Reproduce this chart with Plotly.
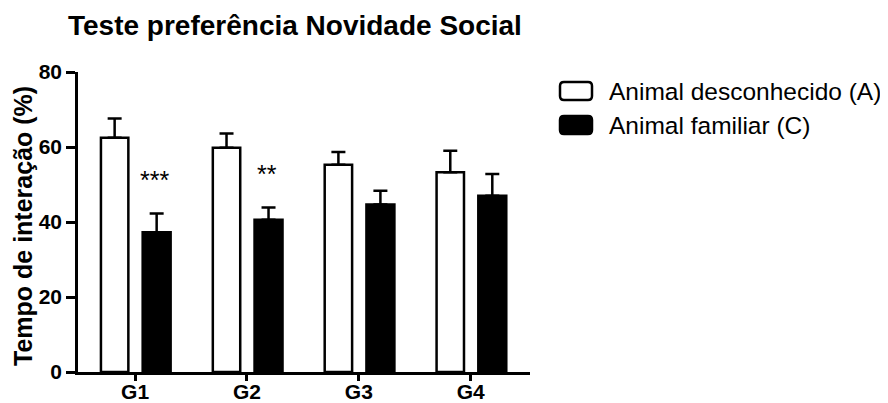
import plotly.graph_objects as go

# ---- data ----
groups = ["G1", "G2", "G3", "G4"]
series_names = ["Animal desconhecido (A)", "Animal familiar (C)"]
desconhecido = [62.5, 59.8, 55.3, 53.3]
desconhecido_sem = [5.1, 3.8, 3.4, 5.7]
familiar = [37.3, 40.6, 44.7, 47.0]
familiar_sem = [5.0, 3.3, 3.6, 5.8]
significance = ["***", "**", "", ""]
y_ticks = [0, 20, 40, 60, 80]

FONT = "Liberation Sans, Arial, sans-serif"
W, H = 888, 403
OFF = 8  # page body margin offset of the rendered figure
# plot area in screen pixels: x 78..530, y 72..372
L, R, T, B = 78 - OFF, W - (530 - OFF), 72 - OFF, H - (372 - OFF)
PW, PH = W - L - R, H - T - B

def px_x(px):
    return (px - OFF - L) / PW

def px_y(py):
    return (H - B - (py - OFF)) / PH

fig = go.Figure()
fig.add_trace(go.Bar(
    x=groups, y=desconhecido, name=series_names[0],
    offset=-0.305, width=0.245,
    marker=dict(color="white", line=dict(color="black", width=2.5)),
    error_y=dict(type="data", symmetric=False, array=desconhecido_sem,
                 arrayminus=[0] * len(groups), color="black", thickness=2.5, width=7),
    showlegend=False,
))
fig.add_trace(go.Bar(
    x=groups, y=familiar, name=series_names[1],
    offset=0.068, width=0.25,
    marker=dict(color="black", line=dict(color="black", width=2.5)),
    error_y=dict(type="data", symmetric=False, array=familiar_sem,
                 arrayminus=[0] * len(groups), color="black", thickness=2.5, width=7),
    showlegend=False,
))

# significance stars above the familiar bars
for i, s in enumerate(significance):
    if s:
        fig.add_annotation(x=i + 0.068 + 0.11, y=familiar[i] + familiar_sem[i] + 9,
                           xref="x", yref="y", text=s, showarrow=False,
                           font=dict(family=FONT, size=25, color="black"),
                           xanchor="center", yanchor="middle")

# custom legend (wide rounded boxes like the original)
def rounded_box(x0, y0, x1, y1, r):
    X0, X1 = px_x(x0), px_x(x1)
    Y0, Y1 = px_y(y0), px_y(y1)
    rx, ry = r / PW, r / PH
    return (f"M{X0+rx},{Y0} L{X1-rx},{Y0} Q{X1},{Y0} {X1},{Y0-ry} "
            f"L{X1},{Y1+ry} Q{X1},{Y1} {X1-rx},{Y1} L{X0+rx},{Y1} "
            f"Q{X0},{Y1} {X0},{Y1+ry} L{X0},{Y0-ry} Q{X0},{Y0} {X0+rx},{Y0} Z")

legend_rows = [(series_names[0], "white", 91), (series_names[1], "black", 125)]
for name, fill, cy in legend_rows:
    fig.add_shape(type="path", xref="paper", yref="paper",
                  path=rounded_box(560, cy - 9, 592, cy + 9, 4),
                  fillcolor=fill, line=dict(color="black", width=2.5))
    fig.add_annotation(x=px_x(607), y=px_y(cy), xref="paper", yref="paper",
                       text=name, showarrow=False, xanchor="left", yanchor="middle",
                       font=dict(family=FONT, size=24.5, color="black"))

# y-axis title
fig.add_annotation(x=px_x(23), y=px_y(226), xref="paper", yref="paper",
                   text="<b>Tempo de interação (%)</b>", textangle=-90, showarrow=False,
                   xanchor="center", yanchor="middle",
                   font=dict(family=FONT, size=25, color="black"))

fig.update_layout(
    width=W, height=H, autosize=False,
    margin=dict(l=L, r=R, t=T, b=B, pad=0, autoexpand=False),
    plot_bgcolor="white", paper_bgcolor="white",
    barmode="overlay",
    title=dict(text="<b>Teste preferência Novidade Social</b>",
               x=(68 - OFF) / W, xanchor="left", xref="container",
               y=1 - (25 - OFF) / H, yanchor="middle", yref="container",
               font=dict(family=FONT, size=28, color="black"), automargin=False),
    xaxis=dict(range=[-0.51, 3.53], showline=True, linecolor="black", linewidth=2.5,
               ticks="outside", ticklen=6, tickwidth=2.5, tickcolor="black",
               ticklabelstandoff=-7,
               tickfont=dict(family=FONT, size=21, color="black", weight="bold"),
               showgrid=False, zeroline=False, automargin=False),
    yaxis=dict(range=[0, 80], tickvals=y_ticks, showline=True, linecolor="black", linewidth=2.5,
               ticks="outside", ticklen=9, tickwidth=2.5, tickcolor="black",
               tickfont=dict(family=FONT, size=21, color="black", weight="bold"),
               showgrid=False, zeroline=False, automargin=False),
)

fig.write_html("out.html")
